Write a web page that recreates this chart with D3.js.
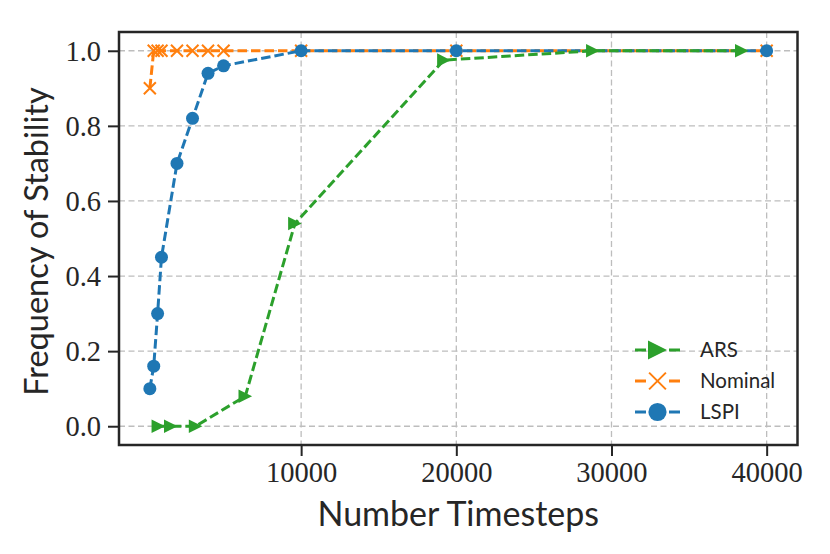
<!DOCTYPE html>
<html>
<head>
<meta charset="utf-8">
<script src="https://cdn.jsdelivr.net/npm/d3@7"></script>
<style>
  body { margin: 0; background: #fff; }
  svg { display: block; }
  .tick-lbl { font-family: "Liberation Serif", serif; font-size: 28.5px; fill: #262626; }
  .ax-lbl { font-family: "Lato", sans-serif; font-size: 34px; fill: #262626; }
  .leg-lbl { font-family: "Lato", sans-serif; font-size: 20.5px; fill: #262626; }
</style>
</head>
<body>
<svg id="chart" width="830" height="554"></svg>
<script>
// series values
const arsX = [800, 1600, 3200, 6400, 9600, 19200, 28800, 38400];
const arsY = [0, 0, 0, 0.08, 0.54, 0.975, 1, 1];

const nominalX = [250, 500, 750, 1000, 2000, 3000, 4000, 5000, 10000, 20000, 40000];
const nominalY = [0.9, 1, 1, 1, 1, 1, 1, 1, 1, 1, 1];

const lspiX = [250, 500, 750, 1000, 2000, 3000, 4000, 5000, 10000, 20000, 40000];
const lspiY = [0.1, 0.16, 0.3, 0.45, 0.7, 0.82, 0.94, 0.96, 1, 1, 1];

const xTicks = [10000, 20000, 30000, 40000];
const yTicks = [0.0, 0.2, 0.4, 0.6, 0.8, 1.0];

const COLORS = { ars: "#2ca02c", nominal: "#ff7f0e", lspi: "#1f77b4" };

var svg = d3.select("#chart");
var plotL = 119, plotR = 797.5, plotT = 32, plotB = 445;

// matplotlib style 5% padding on the data range
var xPad = (40000 - 250) * 0.05;
var x = d3.scaleLinear().domain([250 - xPad, 40000 + xPad]).range([plotL, plotR]);
var y = d3.scaleLinear().domain([-0.05, 1.05]).range([plotB, plotT]);

// grid
var grid = svg.append("g").attr("id", "grid");
grid.selectAll("line.gx").data(xTicks).enter().append("line")
  .attr("x1", d => x(d)).attr("x2", d => x(d))
  .attr("y1", plotT).attr("y2", plotB)
  .attr("stroke", "#bdbdbd").attr("stroke-width", 1.3).attr("stroke-dasharray", "6,3.5");
grid.selectAll("line.gy").data(yTicks).enter().append("line")
  .attr("x1", plotL).attr("x2", plotR)
  .attr("y1", d => y(d)).attr("y2", d => y(d))
  .attr("stroke", "#bdbdbd").attr("stroke-width", 1.3).attr("stroke-dasharray", "6,3.5");

// axes
var xAxis = d3.axisBottom(x).tickValues(xTicks).tickSize(11).tickPadding(6).tickFormat(d3.format("d"));
var yAxis = d3.axisLeft(y).tickValues(yTicks).tickSize(11).tickPadding(7).tickFormat(d3.format(".1f"));

var gx = svg.append("g").attr("transform", `translate(0,${plotB})`).call(xAxis);
var gy = svg.append("g").attr("transform", `translate(${plotL},0)`).call(yAxis);
[gx, gy].forEach(g => {
  g.select(".domain").remove();
  g.selectAll(".tick line").attr("stroke", "#262626").attr("stroke-width", 2);
  g.selectAll(".tick text").attr("class", "tick-lbl").attr("fill", null);
});
gy.selectAll(".tick text").attr("dy", "0.34em");

// series
function drawSeries(xs, ys, color, marker) {
  var pts = xs.map((v, i) => [x(v), y(ys[i])]);
  var g = svg.append("g");
  g.append("path")
    .attr("d", d3.line()(pts))
    .attr("fill", "none")
    .attr("stroke", color)
    .attr("stroke-width", 3)
    .attr("stroke-dasharray", "9.5,4");
  pts.forEach(p => drawMarker(g, p[0], p[1], color, marker, 1));
}

function drawMarker(g, cx, cy, color, marker, k) {
  if (marker === "circle") {
    g.append("circle").attr("cx", cx).attr("cy", cy).attr("r", 6.5 * k).attr("fill", color);
  } else if (marker === "tri") {
    var s = 6.8 * k;
    g.append("path")
      .attr("d", `M${cx - s},${cy - s}L${cx + s},${cy}L${cx - s},${cy + s}Z`)
      .attr("fill", color);
  } else {
    var s = 6 * k;
    g.append("path")
      .attr("d", `M${cx - s},${cy - s}L${cx + s},${cy + s}M${cx - s},${cy + s}L${cx + s},${cy - s}`)
      .attr("stroke", color).attr("stroke-width", 2);
  }
}

drawSeries(nominalX, nominalY, COLORS.nominal, "x");
drawSeries(lspiX, lspiY, COLORS.lspi, "circle");
drawSeries(arsX, arsY, COLORS.ars, "tri");

// frame
svg.append("rect")
  .attr("x", plotL).attr("y", plotT)
  .attr("width", plotR - plotL).attr("height", plotB - plotT)
  .attr("fill", "none").attr("stroke", "#262626").attr("stroke-width", 2.5);

// axis titles
svg.append("text").attr("class", "ax-lbl")
  .attr("x", (plotL + plotR) / 2).attr("y", 526)
  .attr("text-anchor", "middle").text("Number Timesteps");
svg.append("text").attr("class", "ax-lbl")
  .style("font-size", "32.5px")
  .attr("transform", `translate(48,${(plotT + plotB) / 2 + 3}) rotate(-90)`)
  .attr("text-anchor", "middle").text("Frequency of Stability");

// legend
const legendNames = ["ARS", "Nominal", "LSPI"];
const legendKeys = ["ars", "nominal", "lspi"];
const legendMarkers = ["tri", "x", "circle"];
var leg = svg.append("g").attr("id", "legend");
legendNames.forEach((name, i) => {
  var ly = 350 + i * 31;
  var col = COLORS[legendKeys[i]];
  leg.append("line").attr("x1", 635).attr("x2", 680).attr("y1", ly).attr("y2", ly)
    .attr("stroke", col).attr("stroke-width", 3).attr("stroke-dasharray", "11,23");
  drawMarker(leg, 657.5, ly, col, legendMarkers[i], 1.4);
  leg.append("text").attr("class", "leg-lbl")
    .attr("x", 700).attr("y", ly).attr("dy", "0.35em").text(name);
});
</script>
</body>
</html>
